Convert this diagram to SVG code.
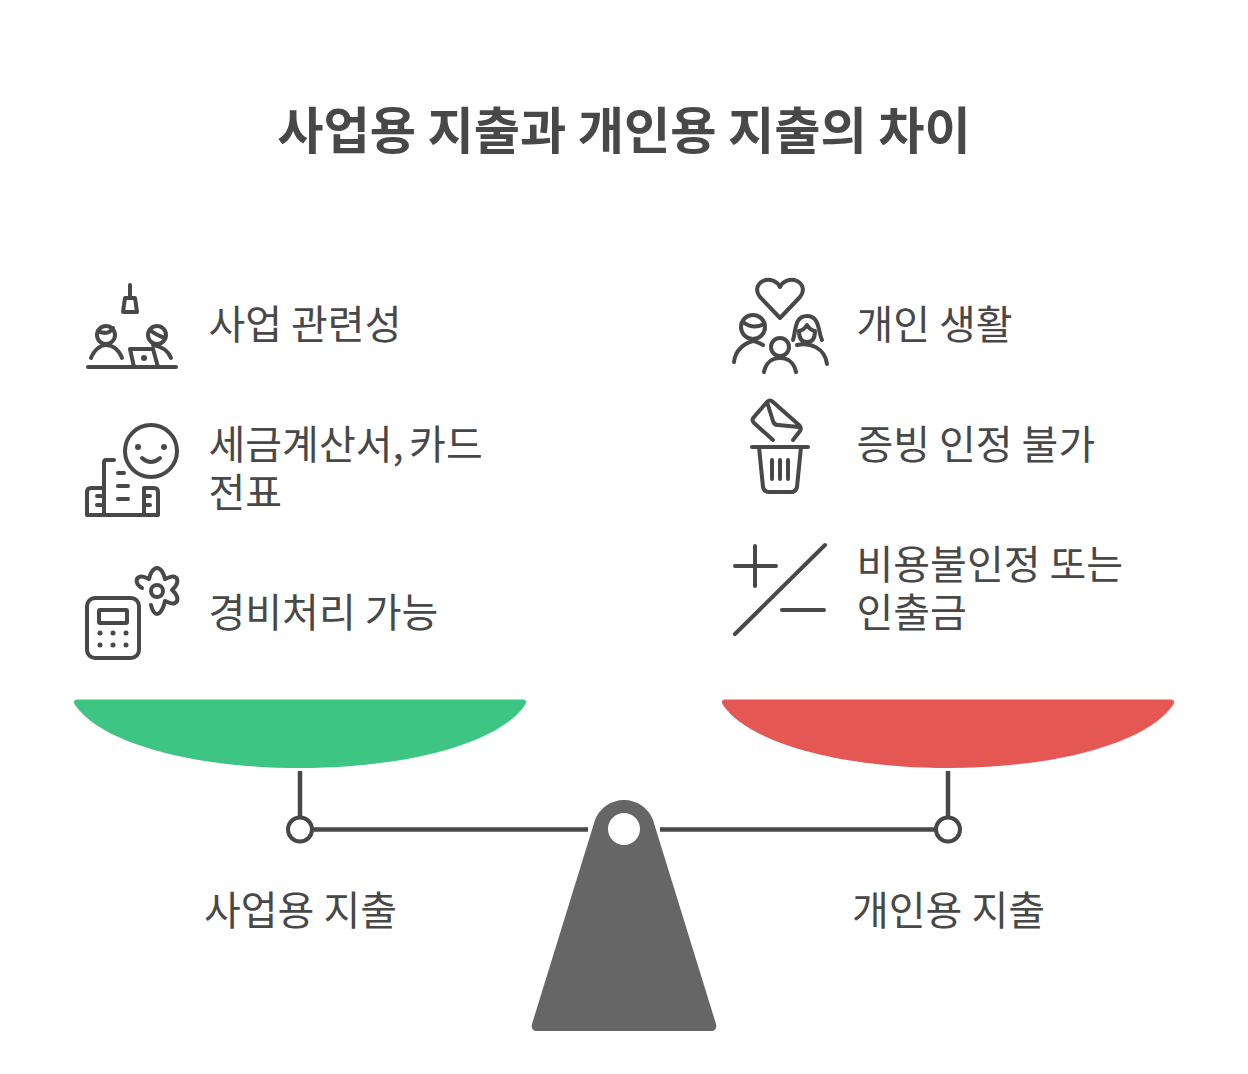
<svg xmlns="http://www.w3.org/2000/svg" width="1248" height="1074" viewBox="0 0 1248 1074">
<style>
text{font-family:"Noto Sans CJK KR","Noto Sans",sans-serif;fill:#484848}
.t{font-size:40px}
.h{font-size:50.3px;font-weight:700;text-anchor:middle}
.c{text-anchor:middle}
.i{fill:none;stroke:#484848;stroke-width:4px;stroke-linecap:round;stroke-linejoin:round}
.d{fill:#484848}
.b{fill:none;stroke:#484848;stroke-width:4.5px}
</style>
<rect width="1248" height="1074" fill="#fff"/>
<g id="title"><text class="h" x="624" y="149">사업용 지출과 개인용 지출의 차이</text></g>
<g id="connectors">
<path class="b" d="M300 771V817M313 829.5H588M660 829.5H935M948 771V817"/>
</g>
<g id="pan-left"><path d="M77 699.500H523C526 699.500 527 702 525 705C500 742 410 768 300 768C190 768 100 742 75 705C73 702 74 699.500 77 699.500Z" fill="#3CC583"/></g>
<g id="pan-right"><path d="M725 699.500H1171C1174 699.500 1175 702 1173 705C1148 742 1058 768 948 768C838 768 748 742 723 705C721 702 722 699.500 725 699.500Z" fill="#E55753"/></g>
<g id="pivot-left"><circle cx="300" cy="829.500" r="12" fill="#fff" stroke="#484848" stroke-width="4"/></g>
<g id="pivot-right"><circle cx="948" cy="829.500" r="12" fill="#fff" stroke="#484848" stroke-width="4"/></g>
<g id="fulcrum"><path fill-rule="evenodd" d="M595 820A31 31 0 0 1 653 820L716 1024C717 1028 715 1031 711 1031H537C533 1031 531 1028 532 1024ZM640 829A16 16 0 1 0 608 829A16 16 0 1 0 640 829Z" fill="#666"/></g>
<g id="label-business"><text class="t c" x="300.500" y="925">사업용 지출</text></g>
<g id="label-personal"><text class="t c" x="948.500" y="925">개인용 지출</text></g>

<g id="item-business-relevance">
<path class="i" d="M130 285V298M125 298H135L137 312H123ZM88 367H176"/>
<circle class="i" cx="106" cy="335" r="9"/><path class="i" d="M98 331Q108 336 113 328"/>
<circle class="i" cx="157" cy="335" r="9"/><path class="i" d="M150 330Q156 335 165 338"/>
<path class="i" d="M91 358C95 348 102 345 106 345C111 345 118 348 122 358M134 367L130 349H153L158 367M153 345C160 346 168 350 171 358"/>
<circle class="d" cx="144" cy="358" r="3"/>
<text class="t" x="208.500" y="339">사업 관련성</text>
</g>
<g id="item-tax-invoice">
<circle class="i" cx="151" cy="451" r="26"/><circle class="d" cx="138" cy="447" r="3"/><circle class="d" cx="164" cy="447" r="3"/>
<path class="i" d="M142 458Q151 466 160 458"/>
<path class="i" d="M114 460H106Q104 460 104 463V515M87 515H158V492Q158 488 154 488H144V515M104 488H91Q87 488 87 492V515M118 473H124M118 486H128M118 499H128M97 496H101M97 505H101M146 496H150M146 505H150"/>
<text class="t" x="208.500" y="459">세금계산서,<tspan dx="-3.500"> 카드</tspan></text>
<text class="t" x="208.500" y="507">전표</text>
</g>
<g id="item-expense">
<rect class="i" x="87" y="598" width="52" height="60" rx="8"/><rect class="i" x="99" y="610" width="28" height="13" rx="1"/>
<g class="d"><circle cx="100" cy="633" r="2.500"/><circle cx="113" cy="633" r="2.500"/><circle cx="126" cy="633" r="2.500"/><circle cx="100" cy="645" r="2.500"/><circle cx="113" cy="645" r="2.500"/><circle cx="126" cy="645" r="2.500"/></g>
<circle class="i" cx="157" cy="591" r="6"/>
<path class="i" d="M142 588C136 585 135 579 139 577C143 575 146 578 149 579C150 574 153 568 157 568C161 568 164 574 165 579C168 578 172 575 175 577C179 579 178 585 172 590C178 595 179 601 175 603C172 605 168 602 165 601C164 606 161 614 157 614C154 614 152 609 151 605"/>
<text class="t" x="208.500" y="627">경비처리 가능</text>
</g>
<g id="item-personal-life">
<path class="i" d="M780 318L760 297C755 291 757 284 763 281C770 278 777 281 780 287C783 281 790 278 797 281C803 284 805 291 800 297Z"/>
<circle class="i" cx="753" cy="327" r="12"/><path class="i" d="M743 322Q753 330 764 324M734 362C735 350 745 343 753 341C756 341 759 343 763 345"/>
<path class="i" d="M793 340C796 332 794 316 807 316C820 316 818 332 822 340M799 331Q804 330 807 325Q810 330 815 331M799 331Q799 342 807 342Q815 342 815 331M797 345C810 342 825 348 827 364"/>
<circle class="i" cx="780" cy="347" r="9"/><path class="i" d="M764 372C766 362 773 358 780 358C787 358 794 362 796 372"/>
<text class="t" x="856.500" y="339">개인 생활</text>
</g>
<g id="item-no-evidence">
<path class="i" d="M773 440L754 423Q751 420 754 417L767 402Q770 399 773 402L799 425Q802 428 800 431L793 440M767 402L773 421Q774 425 778 425L799 427"/>
<path class="i" d="M752 447H808M759 447L763 487Q764 492 769 492H791Q796 492 797 487L801 447"/>
<path class="i" d="M772 460V479M780 460V479M788 460V479"/>
<text class="t" x="856.500" y="459">증빙 인정 불가</text>
</g>
<g id="item-non-deductible">
<path class="i" d="M755 546V586M735 566H776M825 545L735 634M782 610H824"/>
<text class="t" x="856.500" y="579">비용불인정 또는</text>
<text class="t" x="856.500" y="627">인출금</text>
</g>
</svg>
